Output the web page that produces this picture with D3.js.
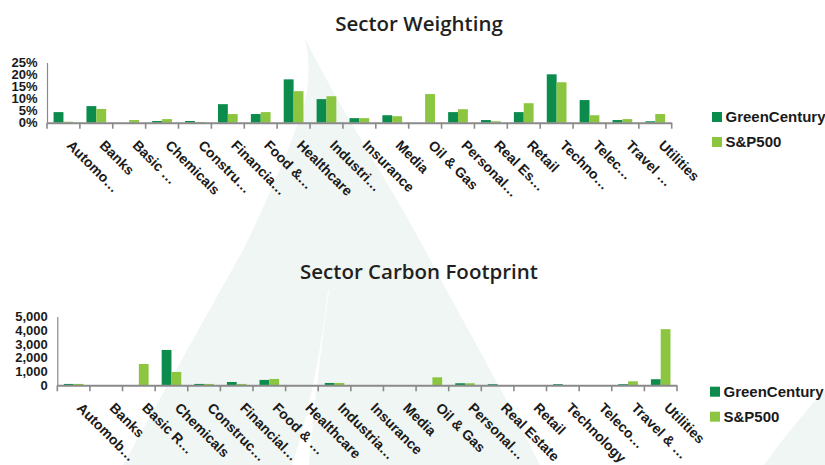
<!DOCTYPE html>
<html>
<head>
<meta charset="utf-8">
<script src="https://cdn.jsdelivr.net/npm/d3@7/dist/d3.min.js"></script>
<style>
  html, body { margin: 0; padding: 0; background: #fff; }
  svg { display: block; }
</style>
</head>
<body>
<svg id="chart" width="825" height="465"></svg>
<script>
// ---- data ----
const weightCategories = ["Automo…", "Banks", "Basic …", "Chemicals", "Constru…", "Financia…", "Food &…", "Healthcare", "Industri…", "Insurance", "Media", "Oil & Gas", "Personal…", "Real Es…", "Retail", "Techno…", "Telec…", "Travel …", "Utilities"];
const weightGreenCentury = [4.4, 6.9, 0, 0.7, 0.7, 7.7, 3.6, 18.0, 9.8, 1.9, 3.1, 0, 4.4, 1.1, 4.4, 20.1, 9.4, 1.1, 0.6];
const weightSP500 = [0.4, 5.7, 1.1, 1.5, 0.3, 3.6, 4.4, 13.1, 11.0, 1.9, 2.7, 11.9, 5.6, 0.6, 8.1, 16.8, 3.1, 1.5, 3.6];
const weightTicks = [0, 5, 10, 15, 20, 25];

const carbonCategories = ["Automob…", "Banks", "Basic R…", "Chemicals", "Construc…", "Financial…", "Food & …", "Healthcare", "Industria…", "Insurance", "Media", "Oil & Gas", "Personal…", "Real Estate", "Retail", "Technology", "Teleco…", "Travel & …", "Utilities"];
const carbonGreenCentury = [100, 0, 0, 2570, 100, 240, 390, 0, 170, 0, 0, 0, 150, 80, 0, 80, 0, 80, 440];
const carbonSP500 = [100, 0, 1550, 970, 100, 100, 460, 0, 170, 0, 0, 580, 150, 0, 0, 0, 0, 290, 4080];
const carbonTicks = [0, 1000, 2000, 3000, 4000, 5000];

const seriesNames = ["GreenCentury", "S&P500"];
const seriesColors = ["#0b8c4d", "#8cc641"];

const svg = d3.select("#chart");
const AXIS = "#8a8a8a";
const FONT = "'Liberation Sans', Arial, sans-serif";

// ---- decorative mountain backdrop ----
const deco = svg.append("g");
deco.append("path")
  .attr("d", "M305,38 C310,60 311,95 297,125 C285,160 265,205 243,250 L123,465 L540,465 C500,385 462,320 425,250 C385,175 340,110 305,38 Z")
  .attr("fill", "#f0f6f3");
deco.append("path")
  .attr("d", "M328,290 C322,345 310,410 292,465 L309,465 C314,410 321,345 329,292 Z")
  .attr("fill", "#ffffff");
deco.append("path")
  .attr("d", "M825,390 C803,414 782,440 764,465 L825,465 Z")
  .attr("fill", "#f0f6f3");

function drawPanel(cfg) {
  const g = svg.append("g");

  // title
  g.append("text")
    .attr("x", cfg.titleX).attr("y", cfg.titleY)
    .attr("text-anchor", "middle")
    .attr("font-family", "'Open Sans', sans-serif")
    .attr("font-weight", 600)
    .attr("font-size", 20.5)
    .attr("fill", "#231f20")
    .text(cfg.title);

  const x = d3.scaleBand().domain(cfg.categories).range([cfg.x0, cfg.x1]).paddingInner(0).paddingOuter(0);
  const xs = d3.scaleBand().domain(seriesNames).range([x.bandwidth() * 0.2, x.bandwidth() * 0.8]);
  const y = d3.scaleLinear().domain([0, cfg.max]).range([cfg.yBase, cfg.yTop]);
  const color = d3.scaleOrdinal().domain(seriesNames).range(seriesColors);

  const rows = cfg.categories.map((c, i) => ({ c, vals: [cfg.a[i], cfg.b[i]] }));

  // bars
  const grp = g.selectAll("g.cat").data(rows).join("g")
    .attr("class", "cat")
    .attr("transform", d => `translate(${x(d.c)},0)`);
  grp.selectAll("rect").data(d => d.vals.map((v, k) => ({ s: seriesNames[k], v })))
    .join("rect")
    .attr("x", d => xs(d.s))
    .attr("width", xs.bandwidth())
    .attr("y", d => y(d.v))
    .attr("height", d => y(0) - y(d.v))
    .attr("fill", d => color(d.s));

  // y axis
  const yAxis = d3.axisLeft(y).tickValues(cfg.ticks).tickSize(0).tickSizeOuter(0).tickPadding(9.5).tickFormat(cfg.fmt);
  const ya = g.append("g").attr("transform", `translate(${cfg.x0},0)`).call(yAxis);
  ya.select(".domain").attr("stroke", AXIS).attr("stroke-width", 1.2);
  ya.selectAll("text")
    .attr("font-family", FONT).attr("font-weight", "bold").attr("font-size", 13).attr("fill", "#1a1a1a");

  // x axis line and boundary ticks
  g.append("line")
    .attr("x1", cfg.x0).attr("x2", cfg.x1)
    .attr("y1", y(0) + 0.5).attr("y2", y(0) + 0.5)
    .attr("stroke", AXIS).attr("stroke-width", 2);
  const bounds = cfg.categories.map(c => x(c)).concat([x(cfg.categories[cfg.categories.length - 1]) + x.bandwidth()]);
  g.selectAll("line.tick").data(bounds).join("line")
    .attr("class", "tick")
    .attr("x1", d => d).attr("x2", d => d)
    .attr("y1", y(0)).attr("y2", y(0) + 6)
    .attr("stroke", AXIS).attr("stroke-width", 1.6);

  // rotated category labels
  g.selectAll("text.cat").data(cfg.categories).join("text")
    .attr("class", "cat")
    .attr("transform", c => `translate(${x(c) + x.bandwidth() / 2 + 2.5},${y(0) + 23.5}) rotate(45)`)
    .attr("font-family", FONT).attr("font-weight", "bold").attr("font-size", 14)
    .attr("fill", "#1a1a1a")
    .text(c => c);

  // legend
  const lg = g.append("g").attr("transform", `translate(${cfg.legendX},${cfg.legendY})`);
  const items = lg.selectAll("g").data(seriesNames).join("g")
    .attr("transform", (d, i) => `translate(0,${i * 25})`);
  items.append("rect").attr("width", 10).attr("height", 10).attr("fill", d => color(d));
  items.append("text")
    .attr("x", 13.5).attr("y", 10)
    .attr("font-family", FONT).attr("font-weight", "bold").attr("font-size", 15)
    .attr("fill", "#1a1a1a")
    .text(d => d);
}

drawPanel({
  title: "Sector Weighting", titleX: 419, titleY: 30.5,
  categories: weightCategories, a: weightGreenCentury, b: weightSP500,
  max: 25, ticks: weightTicks, fmt: d => d + "%",
  x0: 47, x1: 671.7, yBase: 122.7, yTop: 62.5,
  legendX: 712, legendY: 112
});

drawPanel({
  title: "Sector Carbon Footprint", titleX: 419, titleY: 279.3,
  categories: carbonCategories, a: carbonGreenCentury, b: carbonSP500,
  max: 5000, ticks: carbonTicks, fmt: d3.format(","),
  x0: 57.3, x1: 677, yBase: 385.3, yTop: 316.5,
  legendX: 710, legendY: 386.7
});
</script>
</body>
</html>
